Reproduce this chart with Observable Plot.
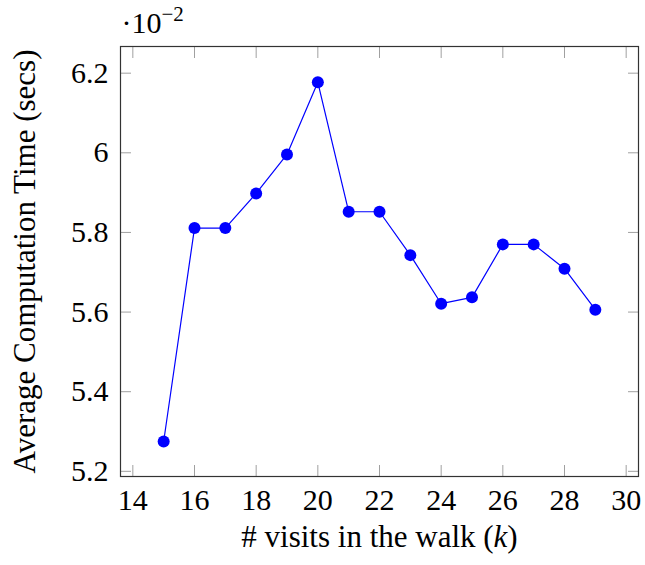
<!DOCTYPE html>
<html><head><meta charset="utf-8">
<script src="https://cdn.jsdelivr.net/npm/d3@7"></script>
<script src="https://cdn.jsdelivr.net/npm/@observablehq/plot@0.6"></script>
<style>
body{margin:0;background:#fff;}
</style></head><body><div id="chart"></div>
<script>
const visits = [15,16,17,18,19,20,21,22,23,24,25,26,27,28,29];
const times = [5.275,5.811,5.811,5.898,5.996,6.177,5.852,5.852,5.743,5.621,5.637,5.770,5.770,5.709,5.606];
const xTicks = [14,16,18,20,22,24,26,28,30];
const yTicks = [5.2,5.4,5.6,5.8,6.0,6.2];
const xLabelPre = "# visits in the walk (";
const xLabelVar = "k";
const xLabelPost = ")";
const yLabel = "Average Computation Time (secs)";
const scaleBase = "·10";
const scaleExp = "−2";

const data = visits.map((k, i) => ({k, t: times[i]}));
const fmt = d => String(+d.toFixed(1));
const tickColor = "#a0a0a0";

const chart = Plot.plot({
  width: 645, height: 565,
  marginLeft: 120, marginRight: 7, marginTop: 46, marginBottom: 89,
  style: {fontFamily: "'Liberation Serif', serif", fontSize: "30px", background: "white", color: "black"},
  x: {domain: [13.6, 30.4]},
  y: {domain: [5.187, 6.267]},
  marks: [
    Plot.axisX(xTicks, {anchor: "bottom", tickSize: 0, tickPadding: 12, label: null, fontSize: 30}),
    Plot.axisX(xTicks, {anchor: "bottom", tickSize: -11, text: null, stroke: tickColor, label: null}),
    Plot.axisX(xTicks, {anchor: "top", tickSize: -11, text: null, stroke: tickColor, label: null}),
    Plot.axisY(yTicks, {anchor: "left", tickSize: 0, tickPadding: 12, tickFormat: fmt, label: null, fontSize: 30}),
    Plot.axisY(yTicks, {anchor: "left", tickSize: -11, text: null, stroke: tickColor, label: null}),
    Plot.axisY(yTicks, {anchor: "right", tickSize: -11, text: null, stroke: tickColor, label: null}),
    Plot.frame({stroke: "#333", strokeWidth: 1.2}),
    Plot.line(data, {x: "k", y: "t", stroke: "#0000ff", strokeWidth: 1.2}),
    Plot.dot(data, {x: "k", y: "t", r: 6, fill: "#0000ff", stroke: "none"}),
    Plot.text([xLabelPre + xLabelVar + xLabelPost], {text: d => d, frameAnchor: "bottom", dy: 61, textAnchor: "middle", lineAnchor: "middle", fontSize: 31}),
    Plot.text([yLabel], {text: d => d, frameAnchor: "left", dx: -95, rotate: -90, textAnchor: "middle", lineAnchor: "middle", fontSize: 31}),
    Plot.text([scaleBase + scaleExp], {text: d => d, frameAnchor: "top-left", dx: 1, dy: -23, textAnchor: "start", lineAnchor: "middle", fontSize: 30})
  ]
});

const NS = "http://www.w3.org/2000/svg";
function span(txt, attrs) {
  const s = document.createElementNS(NS, "tspan");
  s.textContent = txt;
  for (const k in attrs) s.setAttribute(k, attrs[k]);
  return s;
}
for (const t of chart.querySelectorAll("text")) {
  if (t.textContent === xLabelPre + xLabelVar + xLabelPost) {
    t.textContent = "";
    t.appendChild(span(xLabelPre, {}));
    t.appendChild(span(xLabelVar, {"font-style": "italic"}));
    t.appendChild(span(xLabelPost, {}));
  } else if (t.textContent === scaleBase + scaleExp) {
    t.textContent = "";
    t.appendChild(span(scaleBase, {}));
    t.appendChild(span(scaleExp, {"font-size": "21px", dy: "-12"}));
  }
}
document.getElementById("chart").appendChild(chart);
</script></body></html>
